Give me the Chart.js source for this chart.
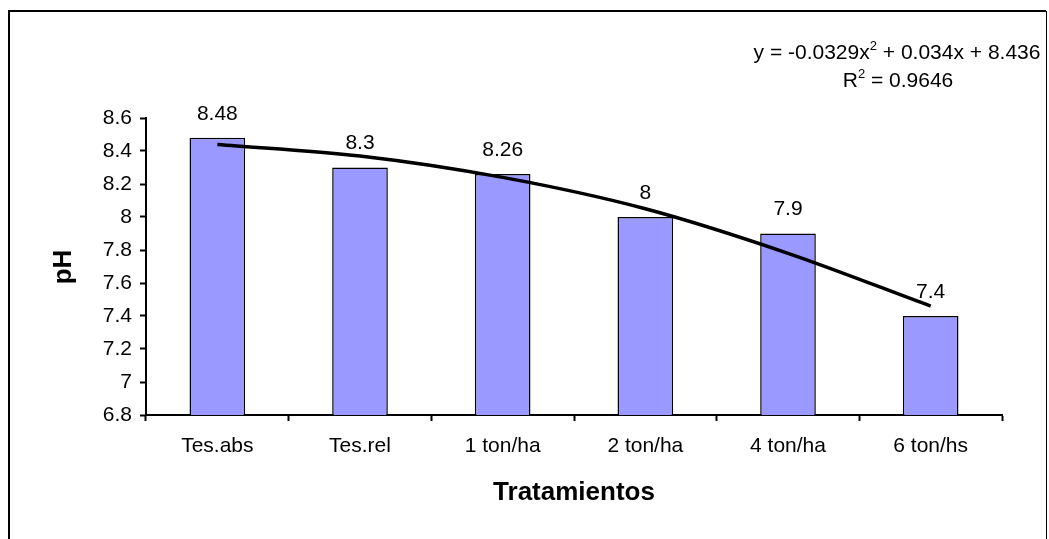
<!DOCTYPE html>
<html>
<head>
<meta charset="utf-8">
<script src="https://cdn.jsdelivr.net/npm/chart.js@4"></script>
<style>
  html, body { margin: 0; padding: 0; background: #fff; }
  #wrap { width: 1049px; height: 539px; }
</style>
</head>
<body>
<div id="wrap"><canvas id="phChart"></canvas></div>
<script>
const categories = ["Tes.abs", "Tes.rel", "1 ton/ha", "2 ton/ha", "4 ton/ha", "6 ton/hs"];
const phValues = [8.48, 8.3, 8.26, 8, 7.9, 7.4];
// polynomial trend line at each category
const trendValues = [8.44, 8.37, 8.24, 8.05, 7.78, 7.46];
const yTicks = [6.8, 7, 7.2, 7.4, 7.6, 7.8, 8, 8.2, 8.4, 8.6];

const FONT = "'Liberation Sans', Arial, sans-serif";

// frame, axis titles, equation and bar labels
const extras = {
  id: "extras",
  beforeDraw(chart) {
    const c = chart.ctx;
    c.save();
    c.fillStyle = "#fff";
    c.fillRect(0, 0, chart.width, chart.height);
    c.strokeStyle = "#000";
    c.lineWidth = 2;
    c.beginPath();
    c.moveTo(9, 539);
    c.lineTo(9, 11);
    c.lineTo(1046, 11);
    c.stroke();
    c.lineWidth = 1;
    c.beginPath();
    c.moveTo(1046.5, 11);
    c.lineTo(1046.5, 539);
    c.stroke();
    c.restore();
  },
  afterDatasetsDraw(chart) {
    const c = chart.ctx;
    c.save();
    c.fillStyle = "#000";
    c.font = "21px " + FONT;
    c.textAlign = "center";
    c.textBaseline = "middle";
    chart.getDatasetMeta(1).data.forEach((bar, i) => {
      c.fillText(String(phValues[i]), bar.x, bar.y - 24);
    });

    // axis titles
    c.font = "bold 26px " + FONT;
    c.fillText("Tratamientos", (chart.chartArea.left + chart.chartArea.right) / 2, 493);
    c.save();
    c.translate(64, 267);
    c.rotate(-Math.PI / 2);
    c.fillText("pH", 0, 0);
    c.restore();

    // trend equation
    const big = "21px " + FONT, small = "13px " + FONT;
    const parts1 = [["y = -0.0329x", big, 0], ["2", small, -9], [" + 0.034x + 8.436", big, 0]];
    const parts2 = [["R", big, 0], ["2", small, -9], [" = 0.9646", big, 0]];
    function line(parts, cx, base) {
      let w = 0;
      parts.forEach(p => { c.font = p[1]; w += c.measureText(p[0]).width; });
      let x = cx - w / 2;
      c.textAlign = "left";
      c.textBaseline = "alphabetic";
      parts.forEach(p => {
        c.font = p[1];
        c.fillText(p[0], x, base + p[2]);
        x += c.measureText(p[0]).width;
      });
    }
    line(parts1, 897, 59);
    line(parts2, 898, 87);
    c.restore();
  }
};

const ctx = document.getElementById("phChart").getContext("2d");
const phChart = new Chart(ctx, {
  data: {
    labels: categories,
    datasets: [
      {
        type: "line",
        label: "Tendencia",
        data: trendValues,
        borderColor: "#000",
        borderWidth: 3.5,
        pointRadius: 0,
        cubicInterpolationMode: "monotone",
        order: 0,
      },
      {
        type: "bar",
        label: "pH",
        data: phValues,
        backgroundColor: "#9999FF",
        borderColor: "#000",
        borderWidth: 1.5,
        barPercentage: 0.39,
        categoryPercentage: 1,
        order: 1,
      },
    ],
  },
  options: {
    responsive: true,
    maintainAspectRatio: false,
    animation: false,
    layout: { padding: { top: 118, right: 47, left: 0, bottom: 0 } },
    scales: {
      x: {
        offset: true,
        grid: {
          offset: true,
          drawOnChartArea: false,
          tickLength: 6,
          tickColor: "#000",
          tickWidth: 2,
        },
        border: { color: "#000", width: 2 },
        ticks: { color: "#000", font: { family: FONT, size: 21 }, padding: 13, maxRotation: 0 },
        afterFit(scale) { scale.height = 124; },
      },
      y: {
        min: 6.8,
        max: 8.6,
        afterBuildTicks(scale) { scale.ticks = yTicks.map(v => ({ value: v })); },
        grid: {
          drawOnChartArea: false,
          tickLength: 6,
          tickColor: "#000",
          tickWidth: 2,
        },
        border: { color: "#000", width: 2 },
        ticks: {
          color: "#000",
          font: { family: FONT, size: 21 },
          padding: 8,
          callback: v => String(parseFloat(v.toFixed(1))),
        },
        afterFit(scale) { scale.width = 146; },
      },
    },
    plugins: {
      legend: { display: false },
      tooltip: { enabled: false },
    },
  },
  plugins: [extras],
});
</script>
</body>
</html>
